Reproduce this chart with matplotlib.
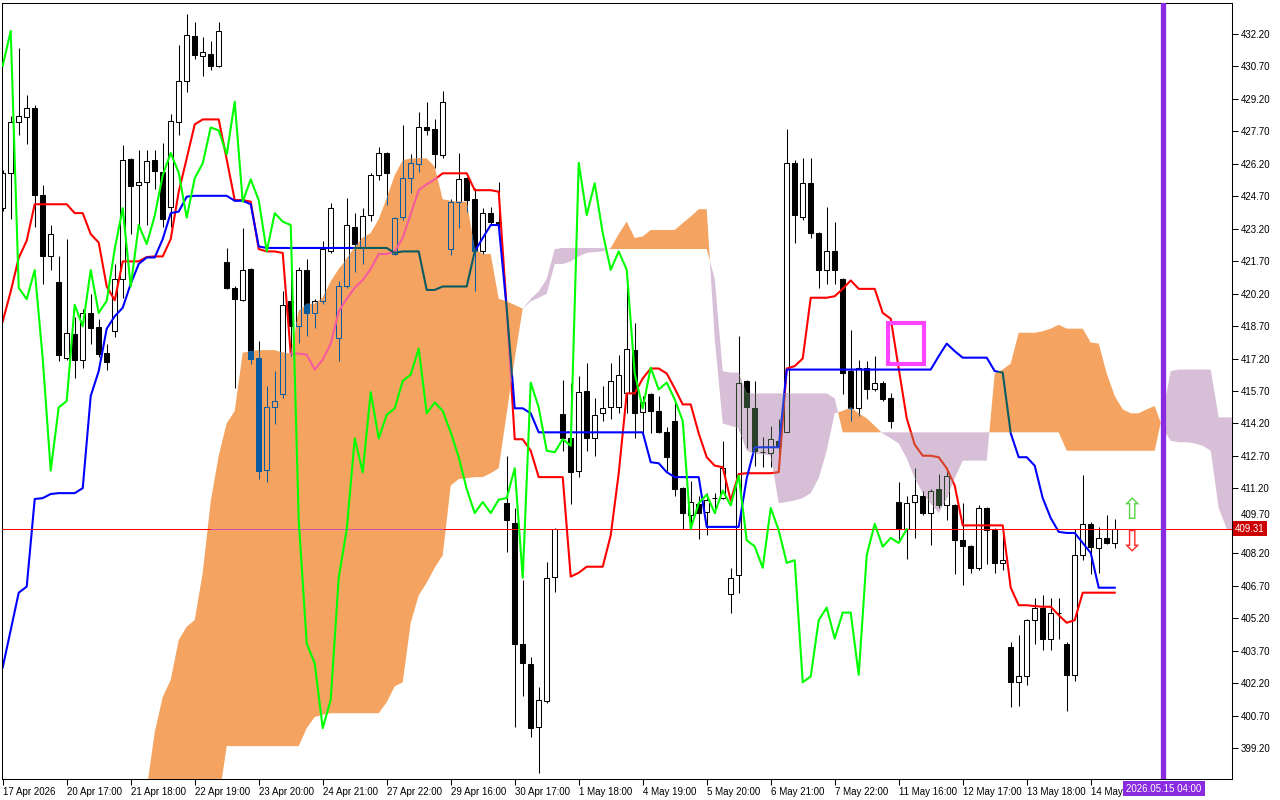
import numpy as np
import matplotlib
matplotlib.use("Agg")
from matplotlib import pyplot as plt
from matplotlib.path import Path
from matplotlib.patches import Rectangle
from matplotlib.transforms import ScaledTranslation

# candles (bar 0 = 17 Apr 2026), prices
OPEN = [424.15, 425.78, 428.11, 428.38, 428.78, 424.75, 421.92, 420.72, 417.24, 418.32,
        417.13, 419.29, 418.65, 417.47, 418.46, 420.88, 426.40, 425.23, 425.35, 426.36,
        425.83, 424.22, 428.13, 430.02, 432.11, 431.17, 431.28, 430.73, 421.64, 420.44,
        419.91, 421.34, 417.24, 412.06, 414.94, 415.54, 419.87, 418.69, 421.29, 419.31,
        419.84, 422.15, 418.16, 420.53, 423.30, 422.33, 423.83, 425.67, 426.68, 422.03,
        423.76, 425.53, 426.17, 427.88, 427.79, 426.59, 422.26, 424.45, 425.53, 424.56,
        422.15, 423.94, 423.53, 410.52, 409.60, 404.03, 403.09, 400.16, 401.36, 407.12,
        414.62, 413.51, 412.02, 415.70, 413.51, 414.67, 414.94, 414.94, 415.59, 417.61,
        414.71, 415.54, 414.78, 413.79, 414.32, 411.21, 409.99, 410.48, 410.11, 410.75,
        410.75, 406.31, 407.18, 416.16, 414.90, 412.87, 412.82, 413.40, 413.81, 426.24,
        423.76, 425.30, 423.00, 421.30, 422.15, 420.88, 416.62, 414.90, 416.74, 415.77,
        416.09, 415.36, 410.57, 409.33, 410.59, 410.87, 410.06, 411.17, 410.41, 410.41,
        408.80, 408.52, 407.53, 410.29, 409.26, 407.76, 403.89, 402.24, 402.51, 405.11,
        405.69, 404.26, 405.46, 404.03, 402.58, 408.11, 409.56, 408.45, 408.91, 408.68]
HIGH = [425.90, 428.43, 431.54, 429.40, 428.90, 425.21, 423.37, 421.96, 422.72, 419.13,
        419.50, 420.17, 419.04, 417.89, 421.57, 427.09, 426.45, 426.86, 426.86, 426.86,
        427.14, 428.48, 431.70, 433.13, 432.73, 432.04, 431.88, 432.73, 422.33, 420.53,
        423.25, 421.39, 418.00, 415.93, 416.62, 420.30, 421.57, 421.45, 421.80, 419.96,
        422.65, 424.38, 420.77, 424.61, 423.94, 424.15, 425.76, 426.96, 426.75, 423.76,
        427.97, 426.63, 428.59, 429.05, 428.25, 429.56, 424.56, 426.70, 425.60, 425.07,
        424.15, 424.22, 425.37, 412.71, 410.29, 406.96, 403.43, 402.00, 407.81, 409.37,
        416.21, 416.09, 416.39, 417.01, 415.36, 415.93, 417.01, 417.38, 420.65, 418.85,
        415.47, 415.59, 415.47, 414.02, 415.17, 411.26, 411.56, 410.87, 410.98, 410.98,
        413.40, 407.53, 418.23, 416.23, 416.16, 413.56, 414.09, 414.39, 427.83, 426.36,
        426.45, 426.45, 423.07, 424.22, 423.53, 420.93, 418.53, 417.15, 417.08, 417.31,
        416.16, 415.59, 411.49, 410.87, 412.13, 411.10, 411.17, 411.86, 412.13, 410.48,
        410.52, 408.57, 410.41, 410.34, 409.37, 409.03, 404.08, 404.42, 405.18, 406.15,
        406.26, 406.15, 406.15, 404.08, 409.33, 411.83, 409.65, 409.42, 409.95, 409.79]
LOW = [424.00, 423.64, 427.55, 427.10, 423.30, 420.65, 421.27, 417.08, 417.15, 416.28,
       416.74, 417.89, 417.29, 416.69, 418.19, 420.00, 422.95, 423.37, 423.37, 425.02,
       423.30, 423.30, 427.51, 429.51, 431.05, 430.27, 430.55, 430.66, 420.42, 415.82,
       419.84, 416.97, 411.63, 411.49, 414.16, 415.36, 417.31, 417.93, 418.23, 418.62,
       419.73, 422.08, 417.08, 420.47, 421.22, 421.57, 423.57, 425.44, 424.29, 421.99,
       423.60, 424.84, 425.83, 427.51, 425.99, 426.45, 421.99, 423.23, 423.99, 420.30,
       422.03, 423.41, 423.30, 408.27, 400.16, 401.59, 399.70, 398.05, 401.27, 406.43,
       412.94, 410.48, 411.72, 412.94, 412.71, 414.32, 414.39, 414.67, 414.67, 413.51,
       413.74, 413.74, 413.74, 412.02, 410.87, 409.33, 409.33, 408.86, 409.03, 410.06,
       410.71, 405.46, 406.38, 413.05, 412.25, 412.18, 412.18, 412.64, 413.79, 422.54,
       423.60, 422.77, 420.47, 420.65, 420.65, 415.54, 414.32, 414.55, 415.31, 415.70,
       415.24, 413.97, 408.80, 407.94, 408.91, 409.95, 408.57, 410.29, 409.72, 407.25,
       406.72, 407.30, 407.42, 407.71, 407.30, 407.42, 401.09, 401.13, 402.12, 404.03,
       403.73, 403.73, 404.26, 400.90, 402.28, 407.88, 407.25, 407.30, 408.63, 408.45]
CLOSE = [425.78, 428.13, 428.41, 428.78, 424.75, 421.92, 422.95, 417.36, 418.37, 417.13,
         419.31, 418.62, 417.43, 417.04, 420.88, 426.36, 425.18, 425.35, 426.31, 425.87,
         423.64, 428.20, 430.02, 432.16, 431.21, 431.38, 430.73, 432.34, 420.47, 419.94,
         421.29, 417.20, 412.02, 414.94, 415.24, 419.68, 418.69, 421.29, 419.31, 419.87,
         422.26, 424.15, 420.53, 423.37, 422.49, 423.80, 425.67, 426.70, 425.78, 423.71,
         425.53, 426.22, 427.88, 427.74, 426.63, 429.07, 424.45, 425.48, 424.52, 422.15,
         423.92, 423.53, 423.37, 409.72, 404.03, 403.11, 400.12, 401.43, 407.07, 409.30,
         413.51, 411.95, 415.65, 413.51, 414.60, 414.90, 416.16, 416.46, 417.66, 414.67,
         415.17, 414.78, 413.79, 412.64, 411.17, 410.06, 410.57, 410.06, 410.68, 410.75,
         412.13, 407.07, 416.09, 414.94, 412.94, 412.87, 413.47, 413.17, 426.24, 423.83,
         425.30, 423.00, 421.30, 422.15, 421.30, 416.51, 414.90, 416.78, 415.77, 416.09,
         415.31, 414.32, 409.33, 410.52, 410.91, 410.06, 411.10, 410.41, 411.79, 408.80,
         408.52, 407.53, 410.29, 409.26, 407.76, 407.88, 402.24, 402.51, 405.11, 405.69,
         404.26, 405.46, 405.46, 402.58, 408.11, 409.56, 408.50, 408.91, 408.68, 409.31]

# Ichimoku lines
TENKAN = [418.92, 420.30, 421.85, 422.65, 424.33, 424.33, 424.33, 424.33, 424.33, 423.92,
          423.92, 422.95, 422.56, 420.53, 419.89, 421.69, 421.69, 421.69, 421.89, 421.92,
          421.92, 422.72, 424.91, 426.45, 428.02, 428.25, 428.25, 428.25, 426.40, 424.52,
          424.52, 424.45, 422.26, 422.15, 422.15, 422.08, 417.43, 417.43, 417.38, 416.69,
          417.15, 417.89, 419.38, 419.96, 420.47, 420.83, 421.34, 422.03, 422.03, 422.15,
          422.77, 423.87, 424.98, 425.25, 425.48, 425.76, 425.76, 425.76, 425.76, 424.98,
          424.98, 424.98, 424.91, 419.50, 413.47, 413.47, 412.94, 411.72, 411.72, 411.72,
          411.72, 407.12, 407.30, 407.58, 407.58, 407.58, 409.03, 411.90, 415.59, 415.59,
          416.28, 416.74, 416.74, 416.51, 415.82, 415.08, 415.08, 413.74, 412.64, 412.25,
          412.18, 410.64, 411.86, 411.90, 411.90, 411.90, 411.90, 411.95, 416.74, 416.85,
          417.20, 420.01, 420.01, 420.01, 420.08, 420.42, 420.81, 420.42, 420.42, 420.42,
          419.31, 419.04, 416.74, 414.44, 413.22, 412.71, 412.71, 412.64, 412.13, 411.33,
          409.49, 409.49, 409.49, 409.49, 409.49, 409.49, 406.61, 405.80, 405.80, 405.76,
          405.73, 405.73, 405.34, 404.99, 405.11, 406.38, 406.38, 406.38, 406.38, 406.38]
KIJUN = [402.93, 404.65, 406.38, 406.66, 410.71, 410.75, 410.94, 410.98, 410.98, 410.98,
         411.21, 415.47, 416.62, 418.58, 419.15, 419.55, 420.65, 421.57, 421.87, 421.87,
         422.72, 423.92, 423.99, 424.68, 424.72, 424.72, 424.72, 424.72, 424.72, 424.49,
         424.49, 424.33, 422.38, 422.31, 422.31, 422.31, 422.31, 422.31, 422.31, 422.31,
         422.31, 422.31, 422.31, 422.31, 422.31, 422.31, 422.31, 422.31, 422.31, 422.08,
         422.15, 422.15, 422.15, 420.37, 420.37, 420.53, 420.53, 420.53, 420.53, 422.15,
         422.77, 423.37, 423.37, 419.50, 414.90, 414.90, 414.67, 413.79, 413.79, 413.79,
         413.79, 413.79, 413.79, 413.79, 413.79, 413.79, 413.79, 413.79, 413.79, 413.79,
         413.79, 412.41, 412.36, 411.95, 411.72, 411.72, 411.72, 411.72, 409.42, 409.42,
         409.42, 409.42, 409.42, 411.67, 413.10, 413.10, 413.10, 413.10, 416.69, 416.69,
         416.69, 416.69, 416.69, 416.69, 416.69, 416.69, 416.69, 416.69, 416.69, 416.69,
         416.69, 416.69, 416.69, 416.69, 416.69, 416.69, 416.69, 417.31, 417.89, 417.54,
         417.24, 417.24, 417.24, 417.24, 416.62, 416.55, 413.75, 412.64, 412.64, 412.25,
         410.75, 409.83, 409.19, 409.14, 409.14, 408.68, 408.22, 406.61, 406.61, 406.61]

# cloud, already shifted 26 bars forward, starts at bar 18
SPAN_START = 18
SPAN_A = [397.30, 399.93, 401.55, 402.35, 404.19, 404.81, 405.11, 407.30, 410.60, 412.71,
          414.21, 414.78, 417.47, 417.54, 417.59, 417.59, 417.59, 417.47, 417.43, 419.38,
          419.73, 419.73, 420.01, 420.77, 421.34, 421.80, 422.38, 422.77, 423.00, 423.64,
          424.61, 425.67, 426.36, 426.45, 426.45, 426.45, 426.06, 424.56, 424.49, 424.45,
          424.45, 422.26, 422.03, 422.03, 419.96, 419.84, 419.68, 419.50, 419.84, 420.01,
          420.19, 421.57, 421.57, 421.69, 421.92, 422.08, 422.12, 422.15, 422.31, 422.95,
          423.53, 422.77, 422.84, 423.14, 423.14, 423.14, 423.14, 423.46, 423.76, 424.10,
          424.10, 418.12, 414.20, 414.09, 413.98, 412.94, 412.78, 412.78, 412.71, 410.52,
          410.57, 410.64, 410.75, 410.98, 411.67, 412.94, 414.67, 414.78, 414.94, 414.67,
          414.44, 414.09, 413.74, 413.51, 413.28, 412.59, 411.67, 410.98, 410.52, 410.06,
          410.75, 411.67, 412.48, 412.48, 412.48, 412.48, 416.51, 416.69, 416.97, 418.39,
          418.39, 418.39, 418.46, 418.58, 418.76, 418.58, 418.58, 418.58, 417.94, 417.89,
          416.51, 415.47, 414.85, 414.67, 414.67, 414.85, 415.01, 413.98, 413.40, 413.33,
          413.33, 413.28, 413.17, 412.94, 410.29, 409.33, 409.19]
SPAN_B = [396.80, 396.80, 396.80, 396.80, 396.80, 396.80, 396.80, 396.80, 396.80, 396.80,
          399.29, 399.29, 399.29, 399.29, 399.29, 399.29, 399.29, 399.29, 399.29, 399.29,
          400.12, 400.63, 400.74, 400.81, 400.81, 400.81, 400.81, 400.81, 400.81, 400.81,
          401.32, 402.05, 402.24, 404.99, 406.26, 406.84, 407.53, 408.11, 411.33, 411.63,
          411.67, 411.72, 411.72, 411.90, 412.13, 414.67, 417.20, 419.50, 419.96, 420.30,
          420.88, 422.26, 422.31, 422.31, 422.31, 422.31, 422.31, 422.31, 422.26, 422.26,
          422.26, 422.26, 422.26, 422.26, 422.26, 422.26, 422.26, 422.26, 422.26, 422.26,
          422.26, 420.88, 416.62, 416.55, 416.55, 415.59, 415.59, 415.59, 415.59, 415.59,
          415.59, 415.59, 415.59, 415.59, 415.59, 415.59, 415.36, 413.79, 413.79, 413.79,
          413.79, 413.79, 413.79, 413.79, 413.79, 413.79, 413.79, 413.79, 413.79, 413.79,
          413.79, 413.79, 413.79, 413.79, 413.79, 413.79, 413.79, 413.79, 413.79, 413.79,
          413.79, 413.79, 413.79, 413.79, 413.79, 412.94, 412.94, 412.94, 412.94, 412.94,
          412.94, 412.94, 412.94, 412.94, 412.94, 412.94, 412.94, 414.67, 416.62, 416.69,
          416.69, 416.69, 416.69, 416.69, 414.48, 414.48, 414.48]
CHIKOU_SHIFT = 26

# last label is hidden behind the date marker in the terminal, only "14 May" shows
TIME_LABELS = ["17 Apr 2026", "20 Apr 17:00", "21 Apr 18:00", "22 Apr 19:00", "23 Apr 20:00",
               "24 Apr 21:00", "27 Apr 22:00", "29 Apr 16:00", "30 Apr 17:00", "1 May 18:00",
               "4 May 19:00", "5 May 20:00", "6 May 21:00", "7 May 22:00", "11 May 16:00",
               "12 May 17:00", "13 May 18:00", "14 May"]
LABEL_STEP = 8
LAST_PRICE = 409.31
VLINE_BAR = 145
VLINE_TEXT = "2026.05.15 04:00"
BOX_BARS = (110.7, 115.2)
BOX_PRICES = (416.95, 418.84)
ARROW_BAR = 141
ARROW_UP_PRICE = 410.15
ARROW_DOWN_PRICE = 408.7

# colours: the cloud is drawn in XOR mode in the terminal
BASE = dict(k='#000000', w='#FFFFFF', r='#FF0000', b='#0000FF')
IN_ORANGE = dict(k='#0B5B9F', w='#F4A460', r='#F45B9F', b='#0B5B60')
IN_THISTLE = dict(k='#274027', w='#D8BFD8', r='#D84027', b='#2740D8')

plt.rcParams['font.family'] = ['Liberation Sans', 'DejaVu Sans']

o = np.array(OPEN)
h = np.array(HIGH)
l = np.array(LOW)
c = np.array(CLOSE)
bars = np.arange(len(c))
XLIM = (-0.09, 153.66)


def draw_layer(ax, pal, clip=None, z=2):
    arts = [ax.vlines(bars, l, h, colors=pal['k'], lw=0.75, zorder=z)]
    fills = [pal['w'] if cc >= oo else pal['k'] for oo, cc in zip(o, c)]
    body = ax.bar(bars, np.abs(c - o), 0.6, np.minimum(o, c), color=fills,
                  edgecolor=pal['k'], lw=0.75, zorder=z)
    arts += list(body)
    arts += ax.plot(bars, TENKAN, color=pal['r'], lw=1.5, zorder=z)
    arts += ax.plot(bars, KIJUN, color=pal['b'], lw=1.5, zorder=z)
    if clip is not None:
        for a in arts:
            a.set_clip_path(clip, ax.transData)


fig = plt.figure(figsize=(12.8, 8), dpi=100)
ax = fig.add_axes([2 / 1280, 21 / 800, 1230 / 1280, 776 / 800])

draw_layer(ax, BASE)

sx = np.arange(SPAN_START, SPAN_START + len(SPAN_A))
sa = np.array(SPAN_A)
sb = np.array(SPAN_B)
up = ax.fill_between(sx, sa, sb, where=sa >= sb, interpolate=True,
                     color='#F4A460', lw=0, zorder=3)
dn = ax.fill_between(sx, sa, sb, where=sa < sb, interpolate=True,
                     color='#D8BFD8', lw=0, zorder=3)
draw_layer(ax, IN_ORANGE, Path.make_compound_path(*up.get_paths()), z=4)
draw_layer(ax, IN_THISTLE, Path.make_compound_path(*dn.get_paths()), z=4)

# last price line, pink where it runs through the rising cloud
ax.axhline(LAST_PRICE, color='#FF0000', lw=0.5, antialiased=False, zorder=4.5)
in_up = (sa >= LAST_PRICE) & (sb <= LAST_PRICE)
ax.plot(sx, np.where(in_up, LAST_PRICE, np.nan), color='#D050B0', lw=0.5,
        antialiased=False, zorder=4.6)

# chikou span = close shifted back
ax.plot(bars[:-CHIKOU_SHIFT], c[CHIKOU_SHIFT:], color='#00FF00', lw=1.5, zorder=5)

ax.axvline(VLINE_BAR, color='#8A2BE2', lw=3.8, zorder=6)
ax.add_patch(Rectangle((BOX_BARS[0], BOX_PRICES[0]), BOX_BARS[1] - BOX_BARS[0],
                       BOX_PRICES[1] - BOX_PRICES[0], fill=False,
                       edgecolor='#FF44FF', lw=3, zorder=6))
ax.text(ARROW_BAR, ARROW_UP_PRICE, '\u21e7', color='#5BD44A', fontsize=21,
        ha='center', va='center', family='DejaVu Sans', zorder=7)
ax.text(ARROW_BAR, ARROW_DOWN_PRICE, '\u21e9', color='#FF2A2A', fontsize=21,
        ha='center', va='center', family='DejaVu Sans', zorder=7)

ax.set_xlim(*XLIM)
ax.set_ylim(397.77, 433.63)

# axes
ax.set_xticks(bars[::LABEL_STEP])
ax.set_xticklabels(TIME_LABELS, ha='left', fontsize=7)
yt = np.arange(399.2, 432.3, 1.5)
ax.yaxis.tick_right()
ax.set_yticks(yt)
ax.set_yticklabels([f'{v:.2f}' for v in yt], fontsize=7)
ax.tick_params(axis='x', length=4, width=0.75, pad=2)
ax.tick_params(axis='y', length=4, width=0.75, pad=2)
for s in ax.spines.values():
    s.set_linewidth(0.75)

# the terminal pushes the label next to the price marker upwards
for lab in ax.get_yticklabels():
    if lab.get_text() == f'{LAST_PRICE + 0.39:.2f}':
        lab.set_transform(lab.get_transform() + ScaledTranslation(0, 0.07, fig.dpi_scale_trans))

fig.text(1235 / 1280, 1 - 528.5 / 800, f'{LAST_PRICE:.2f}', color='white', fontsize=7,
         ha='left', va='center',
         bbox=dict(boxstyle='square,pad=0.25', facecolor='#CC0000', edgecolor='none'))
fig.text(1164 / 1280, 1 - 788.5 / 800, VLINE_TEXT, color='white', fontsize=7,
         ha='center', va='center',
         bbox=dict(boxstyle='square,pad=0.3', facecolor='#8A2BE2', edgecolor='none'))

fig.savefig('out.png', dpi=100)
